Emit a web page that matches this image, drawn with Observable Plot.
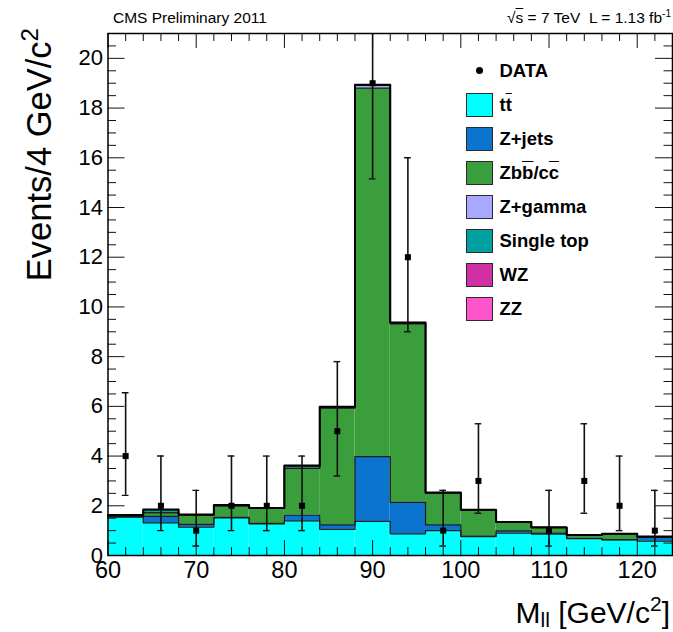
<!DOCTYPE html>
<html>
<head>
<meta charset="utf-8">
<script src="https://cdn.jsdelivr.net/npm/d3@7"></script>
<script src="https://cdn.jsdelivr.net/npm/@observablehq/plot@0.6"></script>
<style>
  body { margin: 0; background: #fff; }
  #wrap { position: relative; width: 673px; height: 632px; overflow: hidden; font-family: "Liberation Sans", Arial, Helvetica, sans-serif; color: #000; }
  #wrap svg { position: absolute; left: 0; top: 0; }
  .ov { position: absolute; white-space: nowrap; line-height: 1; }
  .ob { text-decoration: overline; }
  .leg { position: absolute; left: 466px; font-weight: bold; font-size: 18.5px; line-height: 24px; height: 24px; white-space: nowrap; }
  .sw { position: absolute; left: 0; top: 0; width: 27px; height: 24px; box-sizing: border-box; border: 1.5px solid #2a2a2a; }
  .lt { position: absolute; left: 33.5px; top: 0; }
</style>
</head>
<body>
<div id="wrap"></div>
<script>
// ---- data ----
const binLow  = [60, 64, 68, 72, 76, 80, 84, 88, 92, 96, 100, 104, 108, 112, 116, 120];
const binHigh = [64, 68, 72, 76, 80, 84, 88, 92, 96, 100, 104, 108, 112, 116, 120, 124];

const ttbar     = [1.54, 1.31, 1.14, 1.51, 1.27, 1.39, 1.05, 1.37, 0.87, 1.00, 0.76, 0.90, 0.86, 0.68, 0.63, 0.58];
const zjets     = [0.02, 0.26, 0.11, 0.02, 0.02, 0.23, 0.18, 2.61, 1.27, 0.23, 0.02, 0.09, 0.04, 0.01, 0.01, 0.16];
const zbb       = [0.02, 0.15, 0.37, 0.47, 0.61, 1.88, 4.70, 14.82, 7.18, 1.27, 1.06, 0.36, 0.23, 0.13, 0.23, 0.00];
const zgamma    = [0.01, 0.00, 0.00, 0.00, 0.00, 0.02, 0.02, 0.12, 0.03, 0.00, 0.00, 0.00, 0.00, 0.00, 0.00, 0.00];
const singletop = [0.02, 0.12, 0.02, 0.02, 0.00, 0.08, 0.01, 0.00, 0.00, 0.02, 0.00, 0.00, 0.00, 0.00, 0.00, 0.02];
const wz        = [0.01, 0.00, 0.00, 0.00, 0.00, 0.01, 0.01, 0.01, 0.01, 0.00, 0.00, 0.00, 0.00, 0.00, 0.00, 0.00];
const zz        = [0.01, 0.01, 0.01, 0.01, 0.01, 0.01, 0.01, 0.01, 0.01, 0.01, 0.00, 0.00, 0.00, 0.00, 0.00, 0.00];

const seriesNames  = ["tt̄", "Z+jets", "Zbb̄/cc̄", "Z+gamma", "Single top", "WZ", "ZZ"];
const seriesLabels = ['t<span class="ob">t</span>', 'Z+jets', 'Zb<span class="ob">b</span>/c<span class="ob">c</span>', 'Z+gamma', 'Single top', 'WZ', 'ZZ'];
const seriesColors = ["#00ffff", "#0a74cf", "#3b9e3d", "#a8a8ff", "#00a0a0", "#d12fa4", "#ff55cc"];
const seriesValues = [ttbar, zjets, zbb, zgamma, singletop, wz, zz];

const dataX    = [62, 66, 70, 74, 78, 82, 86, 90, 94, 98, 102, 106, 110, 114, 118, 122];
const dataN    = [4, 2, 1, 2, 2, 2, 5, 19, 12, 1, 3, 0, 1, 3, 2, 1];
const dataLow  = [2.42, 1.0, 0.38, 1.0, 1.0, 1.0, 3.2, 15.15, 9.0, 0.38, 1.7, null, 0.38, 1.7, 1.0, 0.38];
const dataHigh = [6.55, 4.0, 2.62, 4.0, 4.0, 4.0, 7.8, 23.9, 16.0, 2.62, 5.3, null, 2.62, 5.3, 4.0, 2.62];

const xMajor = [60, 70, 80, 90, 100, 110, 120];
const yMajor = [0, 2, 4, 6, 8, 10, 12, 14, 16, 18, 20];
const xMinor = d3.range(60, 124.01, 2).filter(v => v % 10 !== 0);
const yMinor = d3.range(0, 21.01, 0.5).filter(v => v % 2 !== 0);

// ---- layout ----
const W = 673, H = 632;
const mL = 107.5, mR = 1, mT = 33, mB = 77;
const fW = W - mL - mR, fH = H - mT - mB;

// ---- stacking ----
const cum = [];
let running = binLow.map(() => 0);
const rectMarks = [], lineMarks = [];
seriesValues.forEach((vals, k) => {
  const rows = binLow.map((x, i) => ({x1: x, x2: binHigh[i], y1: running[i], y2: running[i] + vals[i]}));
  running = rows.map(r => r.y2);
  cum.push(running.slice());
  rectMarks.push(Plot.rect(rows, {x1: "x1", x2: "x2", y1: "y1", y2: "y2", fill: seriesColors[k]}));
});
cum.forEach((c, k) => {
  const pts = binLow.map((x, i) => ({x, y: c[i]}));
  pts.push({x: binHigh[binHigh.length - 1], y: c[c.length - 1]});
  const top = k === cum.length - 1;
  lineMarks.push(Plot.line(pts, {x: "x", y: "y", curve: "step-after",
    stroke: top ? "#000" : "#1c1c1c", strokeWidth: top ? 2 : 1.2}));
});

const pts = dataX.map((x, i) => ({x, n: dataN[i], lo: dataLow[i], hi: dataHigh[i]})).filter(d => d.n > 0);

const chart = Plot.plot({
  width: W, height: H,
  marginLeft: mL, marginRight: mR, marginTop: mT, marginBottom: mB,
  x: {domain: [60, 124]},
  y: {domain: [0, 21]},
  style: {fontFamily: '"Liberation Sans", Arial, Helvetica, sans-serif', color: "#000", background: "transparent", overflow: "visible"},
  marks: [
    ...rectMarks,
    ...lineMarks,
    // inward ticks on all four sides
    Plot.tickX(xMinor, {x: d => d, insetTop: fH - 8, stroke: "#111", strokeWidth: 1}),
    Plot.tickX(xMajor, {x: d => d, insetTop: fH - 15, stroke: "#111", strokeWidth: 1}),
    Plot.tickX(xMinor, {x: d => d, insetBottom: fH - 8, stroke: "#111", strokeWidth: 1}),
    Plot.tickX(xMajor, {x: d => d, insetBottom: fH - 15, stroke: "#111", strokeWidth: 1}),
    Plot.tickY(yMinor, {y: d => d, insetRight: fW - 8.5, stroke: "#111", strokeWidth: 1}),
    Plot.tickY(yMajor, {y: d => d, insetRight: fW - 17, stroke: "#111", strokeWidth: 1}),
    Plot.tickY(yMinor, {y: d => d, insetLeft: fW - 8.5, stroke: "#111", strokeWidth: 1}),
    Plot.tickY(yMajor, {y: d => d, insetLeft: fW - 17, stroke: "#111", strokeWidth: 1}),
    // data with error bars
    Plot.ruleX(pts, {x: "x", y1: "lo", y2: "hi", stroke: "#111", strokeWidth: 1.6, clip: true}),
    Plot.ruleY(pts, {y: "hi", x1: d => d.x - 0.38, x2: d => d.x + 0.38, stroke: "#111", strokeWidth: 1.4, clip: true}),
    Plot.ruleY(pts, {y: "lo", x1: d => d.x - 0.38, x2: d => d.x + 0.38, stroke: "#111", strokeWidth: 1.4, clip: true}),
    Plot.dot(pts, {x: "x", y: "n", symbol: "square", r: 3.4, fill: "#000", stroke: null}),
    Plot.frame({stroke: "#000", strokeWidth: 1.5}),
    Plot.axisX(xMajor, {anchor: "bottom", tickSize: 0, tickPadding: 6, fontSize: 23.5, label: null}),
    Plot.axisY(yMajor, {anchor: "left", tickSize: 0, tickPadding: 5, fontSize: 22, label: null})
  ]
});

const wrap = document.getElementById("wrap");
wrap.appendChild(chart);

function addOverlay(html, style) {
  const d = document.createElement("div");
  d.className = "ov";
  d.innerHTML = html;
  Object.assign(d.style, style);
  wrap.appendChild(d);
  return d;
}

// header
addOverlay("CMS Preliminary 2011", {left: "113px", top: "10px", fontSize: "15.5px"});
addOverlay('√<span style="text-decoration:overline">s</span> = 7 TeV&nbsp;&nbsp;L = 1.13 fb<span style="font-size:0.65em;position:relative;top:-0.55em">-1</span>',
  {right: "2px", top: "10px", fontSize: "15.5px"});

// axis titles
addOverlay('Events/4 GeV/c<span style="font-size:0.7em;position:relative;top:-0.55em">2</span>',
  {left: "22px", top: "298px", width: "270px", textAlign: "right", fontSize: "34.5px",
   transform: "rotate(-90deg)", transformOrigin: "left top"});
addOverlay('M<span style="font-size:0.7em;position:relative;top:0.2em">ll</span> [GeV/c<span style="font-size:0.7em;position:relative;top:-0.55em">2</span>]',
  {right: "3px", top: "598px", fontSize: "30px"});

// legend
const dataRow = document.createElement("div");
dataRow.className = "leg";
dataRow.style.top = (70.7 - 12) + "px";
dataRow.innerHTML = '<div style="position:absolute;left:9.5px;top:8.5px;width:7px;height:7px;border-radius:50%;background:#000"></div><div class="lt">DATA</div>';
wrap.appendChild(dataRow);
seriesLabels.forEach((lab, i) => {
  const r = document.createElement("div");
  r.className = "leg";
  r.style.top = (92.7 + i * 34.1) + "px";
  r.innerHTML = `<div class="sw" style="background:${seriesColors[i]}"></div><div class="lt">${lab}</div>`;
  wrap.appendChild(r);
});
</script>
</body>
</html>
